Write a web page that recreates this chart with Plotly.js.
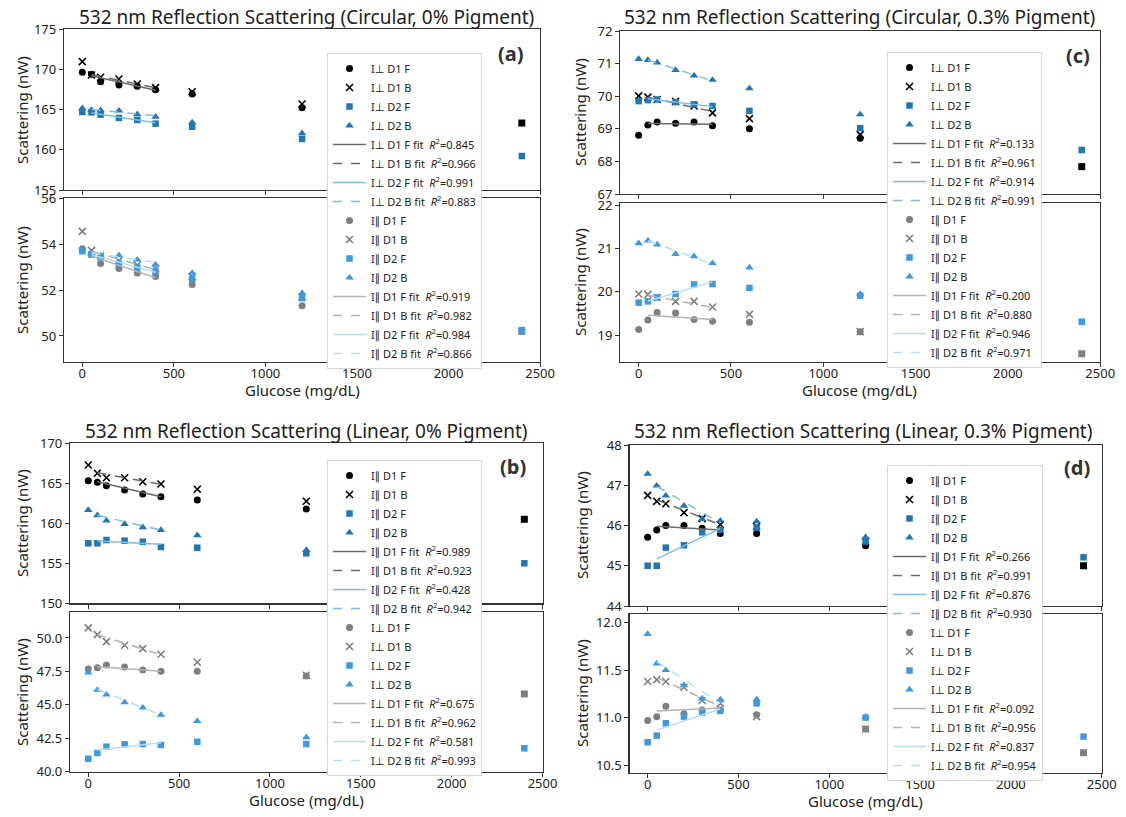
<!DOCTYPE html>
<html><head><meta charset="utf-8">
<script src="https://cdn.plot.ly/plotly-3.0.1.min.js"></script>
<style>html,body{margin:0;padding:0;background:#fff}#chart{width:1126px;height:817px}</style>
</head><body><div id="chart"></div>
<script>
// ---------------- DATA ----------------
const glucose = [0, 50, 100, 200, 300, 400, 600, 1200, 2400];
const fitGlucose = [50, 400];
const seriesLabels = ['D1 F', 'D1 B', 'D2 F', 'D2 B'];
const panelTitles = [
  '532 nm Reflection Scattering (Circular, 0% Pigment)',
  '532 nm Reflection Scattering (Circular, 0.3% Pigment)',
  '532 nm Reflection Scattering (Linear, 0% Pigment)',
  '532 nm Reflection Scattering (Linear, 0.3% Pigment)'
];
const panelTags = ['(a)', '(c)', '(b)', '(d)'];
const xTitle = 'Glucose (mg/dL)';
const yTitle = 'Scattering (nW)';
const xTicks = [0, 500, 1000, 1500, 2000, 2500];

// (a) Circular, 0% pigment — top: I⊥, bottom: I∥
const aTopD1F = [169.62, 169.37, 168.45, 168.04, 167.88, 167.46, 166.93, 165.22, 163.32];
const aTopD1B = [170.94, 169.29, 169.0, 168.79, 168.17, 167.71, 167.2, 165.68, null];
const aTopD2F = [164.69, 164.65, 164.36, 163.95, 163.7, 163.24, 162.86, 161.34, 159.22];
const aTopD2B = [165.15, 164.94, 164.9, 164.85, 164.4, 164.1, 163.4, 162.04, null];
const aTopFitD1F = [169.2, 167.4];
const aTopFitD1B = [169.35, 167.7];
const aTopFitD2F = [164.57, 163.36];
const aTopFitD2B = [165.0, 164.23];
const aTopR2 = [0.845, 0.966, 0.991, 0.883];
const aBotD1F = [53.82, 53.6, 53.17, 52.95, 52.76, 52.6, 52.25, 51.32, 50.2];
const aBotD1B = [54.58, 53.75, 53.5, 53.3, 53.1, 52.95, 52.6, 51.7, null];
const aBotD2F = [53.71, 53.56, 53.44, 53.17, 53.0, 52.83, 52.5, 51.66, 50.26];
const aBotD2B = [53.81, 53.63, 53.52, 53.53, 53.34, 53.12, 52.76, 51.88, null];
const aBotFitD1F = [53.5, 52.55];
const aBotFitD1B = [53.7, 52.9];
const aBotFitD2F = [53.56, 52.79];
const aBotFitD2B = [53.64, 53.22];
const aBotR2 = [0.919, 0.982, 0.984, 0.866];

// (c) Circular, 0.3% pigment — top: I⊥, bottom: I∥
const cTopD1F = [68.80, 69.12, 69.21, 69.17, 69.21, 69.09, 69.0, 68.71, 67.84];
const cTopD1B = [70.01, 69.97, 69.9, 69.84, 69.7, 69.49, 69.31, 68.82, null];
const cTopD2F = [69.85, 69.88, 69.9, 69.82, 69.75, 69.7, 69.55, 69.02, 68.35];
const cTopD2B = [71.14, 71.11, 71.03, 70.8, 70.63, 70.5, 70.24, 69.44, null];
const cTopFitD1F = [69.16, 69.14];
const cTopFitD1B = [69.97, 69.53];
const cTopFitD2F = [69.92, 69.68];
const cTopFitD2B = [71.11, 70.47];
const cTopR2 = [0.133, 0.961, 0.914, 0.991];
const cBotD1F = [19.13, 19.35, 19.52, 19.51, 19.36, 19.32, 19.30, 19.08, 18.57];
const cBotD1B = [19.95, 19.94, 19.87, 19.78, 19.78, 19.65, 19.48, 19.08, null];
const cBotD2F = [19.75, 19.78, 19.87, 19.95, 20.17, 20.18, 20.09, 19.91, 19.31];
const cBotD2B = [21.12, 21.18, 21.09, 20.87, 20.82, 20.66, 20.56, 19.95, null];
const cBotFitD1F = [19.46, 19.36];
const cBotFitD1B = [19.92, 19.64];
const cBotFitD2F = [19.79, 20.23];
const cBotFitD2B = [21.18, 20.64];
const cBotR2 = [0.200, 0.880, 0.946, 0.971];

// (b) Linear, 0% pigment — top: I∥, bottom: I⊥
const bTopD1F = [165.33, 165.12, 164.7, 164.16, 163.66, 163.33, 162.91, 161.79, 160.5];
const bTopD1B = [167.29, 166.25, 165.7, 165.7, 165.2, 164.91, 164.25, 162.75, null];
const bTopD2F = [157.5, 157.5, 157.91, 157.83, 157.7, 157.04, 156.95, 156.25, 155.0];
const bTopD2B = [161.66, 161.0, 160.33, 159.91, 159.5, 159.16, 158.5, 156.66, null];
const bTopFitD1F = [165.2, 163.33];
const bTopFitD1B = [166.33, 164.87];
const bTopFitD2F = [157.79, 157.37];
const bTopFitD2B = [161.0, 159.16];
const bTopR2 = [0.989, 0.923, 0.428, 0.942];
const bBotD1F = [47.68, 47.78, 47.98, 47.83, 47.61, 47.51, 47.51, 47.16, 45.81];
const bBotD1B = [50.75, 50.25, 49.72, 49.45, 49.2, 48.78, 48.18, 47.21, null];
const bBotD2F = [40.97, 41.4, 41.87, 42.05, 42.07, 42.0, 42.24, 42.07, 41.75];
const bBotD2B = [47.4, 46.11, 45.76, 45.19, 44.79, 44.24, 43.79, 42.57, null];
const bBotFitD1F = [47.85, 47.51];
const bBotFitD1B = [50.25, 48.73];
const bBotFitD2F = [41.62, 42.17];
const bBotFitD2B = [46.16, 44.24];
const bBotR2 = [0.675, 0.962, 0.581, 0.993];

// (d) Linear, 0.3% pigment — top: I∥, bottom: I⊥
const dTopD1F = [45.71, 45.89, 46.0, 46.0, 45.93, 45.8, 45.8, 45.5, 45.0];
const dTopD1B = [46.75, 46.6, 46.54, 46.32, 46.17, 46.02, 45.98, 45.6, null];
const dTopD2F = [45.0, 45.0, 45.45, 45.51, 45.83, 45.89, 45.95, 45.6, 45.21];
const dTopD2B = [47.28, 46.99, 46.74, 46.49, 46.16, 46.12, 46.1, 45.71, null];
const dTopFitD1F = [45.98, 45.89];
const dTopFitD1B = [46.64, 46.02];
const dTopFitD2F = [45.17, 45.93];
const dTopFitD2B = [46.97, 46.06];
const dTopR2 = [0.266, 0.991, 0.876, 0.930];
const dBotD1F = [10.97, 11.01, 11.12, 11.04, 11.08, 11.08, 11.03, 10.88, 10.63];
const dBotD1B = [11.38, 11.4, 11.38, 11.32, 11.18, 11.15, 11.01, 10.88, null];
const dBotD2F = [10.74, 10.81, 10.94, 11.01, 11.05, 11.07, 11.15, 11.0, 10.8];
const dBotD2B = [11.88, 11.57, 11.5, 11.34, 11.2, 11.19, 11.19, 11.01, null];
const dBotFitD1F = [11.07, 11.1];
const dBotFitD1B = [11.42, 11.12];
const dBotFitD2F = [10.87, 11.09];
const dBotFitD2B = [11.59, 11.15];
const dBotR2 = [0.092, 0.956, 0.837, 0.954];

// ---------------- LAYOUT / STYLE ----------------
const W = 1126, H = 817;
const PX = v => v / W, PY = v => 1 - v / H;
const FONT = 'Noto Sans, Open Sans, DejaVu Sans, sans-serif';

const PERP = 'I\u22A5', PAR = 'I\u2225';

const subplots = [
  {xd:[64,540.1], yd:[29,190], yr:[155,175], tv:[155,160,165,170,175], tf:'d', pre:PERP, top:true, lg:'legend',
   pts:[aTopD1F,aTopD1B,aTopD2F,aTopD2B], fits:[aTopFitD1F,aTopFitD1B,aTopFitD2F,aTopFitD2B], r2:aTopR2},
  {xd:[64,540.1], yd:[198,362], yr:[48.86,56.04], tv:[50,52,54,56], tf:'d', pre:PAR, top:false, lg:'legend',
   pts:[aBotD1F,aBotD1B,aBotD2F,aBotD2B], fits:[aBotFitD1F,aBotFitD1B,aBotFitD2F,aBotFitD2B], r2:aBotR2},
  {xd:[620.2,1100.2], yd:[31,194], yr:[67,72], tv:[67,68,69,70,71,72], tf:'d', pre:PERP, top:true, lg:'legend2',
   pts:[cTopD1F,cTopD1B,cTopD2F,cTopD2B], fits:[cTopFitD1F,cTopFitD1B,cTopFitD2F,cTopFitD2B], r2:cTopR2},
  {xd:[620.2,1100.2], yd:[203,362], yr:[18.38,22.05], tv:[19,20,21,22], tf:'d', pre:PAR, top:false, lg:'legend2',
   pts:[cBotD1F,cBotD1B,cBotD2F,cBotD2B], fits:[cBotFitD1F,cBotFitD1B,cBotFitD2F,cBotFitD2B], r2:cBotR2},
  {xd:[70.1,542.5], yd:[443.3,603.3], yr:[150,170], tv:[150,155,160,165,170], tf:'d', pre:PAR, top:true, lg:'legend3',
   pts:[bTopD1F,bTopD1B,bTopD2F,bTopD2B], fits:[bTopFitD1F,bTopFitD1B,bTopFitD2F,bTopFitD2B], r2:bTopR2},
  {xd:[70.1,542.5], yd:[612,771.7], yr:[40,51.94], tv:[40,42.5,45,47.5,50], tf:'.1f', pre:PERP, top:false, lg:'legend3',
   pts:[bBotD1F,bBotD1B,bBotD2F,bBotD2B], fits:[bBotFitD1F,bBotFitD1B,bBotFitD2F,bBotFitD2B], r2:bBotR2},
  {xd:[629.5,1101.7], yd:[445,606], yr:[44,48], tv:[44,45,46,47,48], tf:'d', pre:PAR, top:true, lg:'legend4',
   pts:[dTopD1F,dTopD1B,dTopD2F,dTopD2B], fits:[dTopFitD1F,dTopFitD1B,dTopFitD2F,dTopFitD2B], r2:dTopR2},
  {xd:[629.5,1101.7], yd:[614,773], yr:[10.416,12.092], tv:[10.5,11,11.5,12], tf:'.1f', pre:PERP, top:false, lg:'legend4',
   pts:[dBotD1F,dBotD1B,dBotD2F,dBotD2B], fits:[dBotFitD1F,dBotFitD1B,dBotFitD2F,dBotFitD2B], r2:dBotR2}
];

const markerStyle = [
  {sym:'circle', size:7},
  {sym:'x-thin', size:7},
  {sym:'square', size:6.5},
  {sym:'triangle-up', size:7.5}
];
const colTop = {d1:'#000000', d2:'#1f77b4', f1:'#6b6b6b', f2:'#7bbde8'};
const colBot = {d1:'#7f7f7f', d2:'#3d9ae0', f1:'#b3b3b3', f2:'#b9def3'};

const traces = [];
const layout = {
  width: W, height: H, margin:{l:0,r:0,t:0,b:0},
  paper_bgcolor:'#fff', plot_bgcolor:'#fff',
  font:{family:FONT, size:13, color:'#222'},
  showlegend:true, annotations:[]
};

subplots.forEach((s, i) => {
  const n = i === 0 ? '' : String(i + 1);
  const xref = 'x' + n, yref = 'y' + n;
  const col = s.top ? colTop : colBot;
  layout['xaxis' + n] = {
    domain:[PX(s.xd[0]), PX(s.xd[1])], range:[-100, 2500], anchor:yref,
    tickvals:xTicks, showticklabels:!s.top, ticks:'outside', ticklen:4, tickwidth:1, tickcolor:'#333',
    ticklabelstandoff:-5,
    showline:true, mirror:true, linecolor:'#333', linewidth:1.2, showgrid:false, zeroline:false,
    tickfont:{size:13, color:'#222'}
  };
  layout['yaxis' + n] = {
    domain:[PY(s.yd[1]), PY(s.yd[0])], range:s.yr, anchor:xref,
    tickvals:s.tv, tickformat:s.tf, ticks:'outside', ticklen:4, tickwidth:1, tickcolor:'#333',
    showline:true, mirror:true, linecolor:'#333', linewidth:1.2, showgrid:false, zeroline:false,
    tickfont:{size:13, color:'#222'}
  };
  s.pts.forEach((arr, k) => {
    const ms = markerStyle[k];
    const c = k < 2 ? col.d1 : col.d2;
    const symbols = glucose.map(g => (g === 2400 ? 'square' : ms.sym));
    traces.push({
      type:'scatter', mode:'markers', x:glucose, y:arr, xaxis:xref, yaxis:yref,
      name: s.pre + ' ' + seriesLabels[k], legend:s.lg,
      marker:{symbol:symbols, size:ms.size, color:c,
              line: ms.sym === 'x-thin' ? {color:c, width:1.6} : {width:0}},
      cliponaxis:false, hoverinfo:'skip'
    });
  });
  s.fits.forEach((arr, k) => {
    const c = k < 2 ? col.f1 : col.f2;
    traces.push({
      type:'scatter', mode:'lines', x:fitGlucose, y:arr, xaxis:xref, yaxis:yref,
      name: s.pre + ' ' + seriesLabels[k] + ' fit  <i>R</i><sup>2</sup>=' + s.r2[k].toFixed(3),
      legend:s.lg,
      line:{color:c, width:1.5, dash:(k % 2 === 1 ? 'dash' : 'solid')}, hoverinfo:'skip'
    });
  });
});

const legendPos = {legend:[327,53], legend2:[887,52], legend3:[327,460], legend4:[887,465]};
Object.keys(legendPos).forEach(key => {
  const p = legendPos[key];
  layout[key] = {
    x:PX(p[0]), y:PY(p[1]), xanchor:'left', yanchor:'top', xref:'paper', yref:'paper',
    bgcolor:'#ffffff', bordercolor:'#d6d6d6', borderwidth:1, traceorder:'normal',
    font:{family:FONT, size:11, color:'#222'}, itemwidth:33
  };
});

const ann = (x, y, text, opts) => Object.assign({
  xref:'paper', yref:'paper', x:PX(x), y:PY(y), text:text, showarrow:false,
  xanchor:'center', yanchor:'middle', font:{family:FONT, size:15, color:'#222'}
}, opts || {});

const panelGeom = [
  {title:[306,17], tag:[511,54], xt:[302,390], yt:[[22,110],[22,280]]},
  {title:[860,17], tag:[1078,55], xt:[860,390], yt:[[580,112],[580,282]]},
  {title:[306,431], tag:[513,466], xt:[306,800], yt:[[22,523],[22,692]]},
  {title:[863,431], tag:[1077,467], xt:[865,801], yt:[[582,525],[582,693]]}
];
panelGeom.forEach((g, i) => {
  layout.annotations.push(ann(g.title[0], g.title[1], panelTitles[i], {font:{family:FONT, size:19, color:'#222'}}));
  layout.annotations.push(ann(g.tag[0], g.tag[1], '<b>' + panelTags[i] + '</b>', {font:{family:FONT, size:20, color:'#333'}}));
  layout.annotations.push(ann(g.xt[0], g.xt[1], xTitle, {font:{family:FONT, size:15, color:'#222'}}));
  g.yt.forEach(p => layout.annotations.push(ann(p[0], p[1], yTitle, {textangle:-90})));
});

Plotly.newPlot('chart', traces, layout, {displayModeBar:false, staticPlot:true});
</script>
</body></html>
